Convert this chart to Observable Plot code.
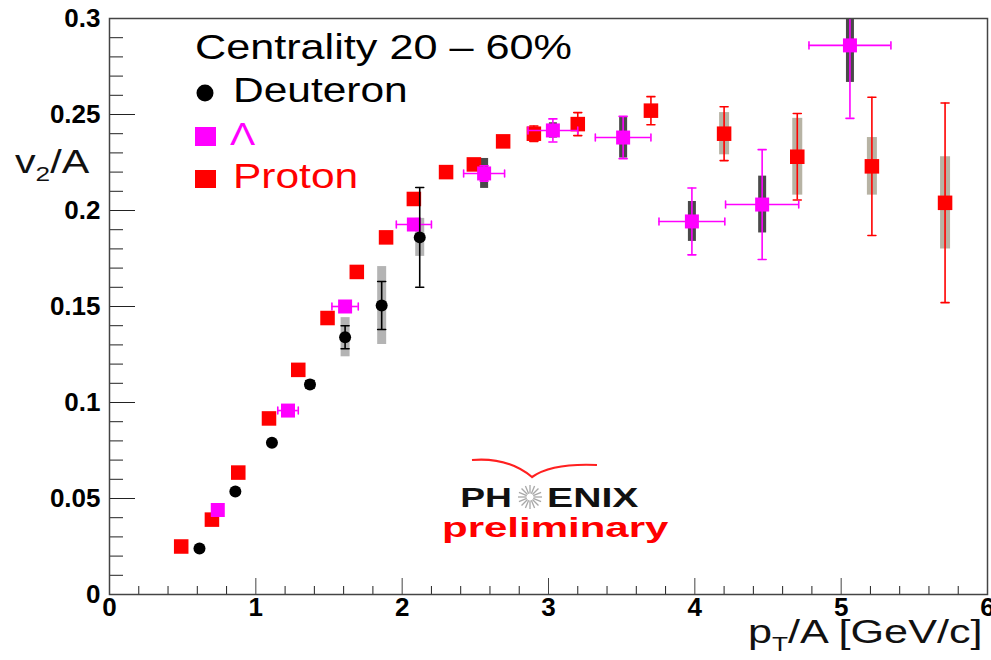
<!DOCTYPE html>
<html>
<head>
<meta charset="utf-8">
<script src="https://cdn.jsdelivr.net/npm/d3@7"></script>
<script src="https://cdn.jsdelivr.net/npm/@observablehq/plot@0.6"></script>
<style>
  body { margin: 0; background: #fff; }
  #wrap { position: relative; width: 991px; height: 660px; overflow: hidden; font-family: "Liberation Sans", Arial, sans-serif; }
  #wrap > svg.overlay { position: absolute; left: 0; top: 0; pointer-events: none; }
</style>
</head>
<body>
<div id="wrap"></div>
<script>
// ---- data ----
const protonX    = [0.49, 0.70, 0.88, 1.09, 1.29, 1.49, 1.69, 1.89, 2.08, 2.30, 2.49, 2.69, 2.90, 3.20, 3.70, 4.20, 4.70, 5.21, 5.71];
const protonY    = [0.025, 0.039, 0.0635, 0.0917, 0.117, 0.144, 0.168, 0.186, 0.206, 0.220, 0.224, 0.236, 0.240, 0.245, 0.252, 0.240, 0.228, 0.223, 0.204];
const protonStat = [0, 0, 0, 0, 0, 0, 0, 0, 0, 0, 0, 0.002, 0.004, 0.006, 0.0073, 0.014, 0.0225, 0.036, 0.052];
const protonSys  = [0, 0, 0, 0, 0, 0, 0, 0, 0, 0, 0, 0, 0, 0, 0, 0.011, 0.020, 0.015, 0.024];

const lambdaX    = [0.74, 1.22, 1.61, 2.08, 2.56, 3.03, 3.51, 3.98, 4.46, 5.06];
const lambdaY    = [0.044, 0.0958, 0.150, 0.1927, 0.2193, 0.2417, 0.238, 0.1943, 0.2031, 0.286];
const lambdaXErr = [0, 0.07, 0.09, 0.12, 0.14, 0.17, 0.19, 0.225, 0.25, 0.28];
const lambdaStat = [0, 0, 0, 0.003, 0.004, 0.006, 0.011, 0.0174, 0.0286, 0.038];
const lambdaSys  = [0, 0, 0, 0, 0.0078, 0.004, 0.0107, 0.0104, 0.0148, 0.0193];

const deutX    = [0.615, 0.86, 1.11, 1.37, 1.61, 1.86, 2.12];
const deutY    = [0.024, 0.0536, 0.079, 0.1094, 0.134, 0.1505, 0.186];
const deutStat = [0, 0, 0, 0.002, 0.006, 0.0125, 0.026];
const deutSys  = [0, 0, 0, 0, 0.0102, 0.0203, 0.0099];

const xMajor = [0, 1, 2, 3, 4, 5, 6];
const xTickLabels = ["0", "1", "2", "3", "4", "5", "6"];
const yMajor = [0, 0.05, 0.1, 0.15, 0.2, 0.25, 0.3];
const yTickLabels = ["0", "0.05", "0.1", "0.15", "0.2", "0.25", "0.3"];
const xMinor = d3.range(0, 31).map(i => i / 5).filter(v => !xMajor.includes(v));
const yMinor = d3.range(0, 31).map(i => i / 100).filter(v => !yMajor.some(m => Math.abs(m - v) < 1e-9));

const legendTitle = "Centrality 20 \u2013 60%";
const legendNames = ["Deuteron", "\u039B", "Proton"];

// ---- tables ----
const mk = (xs, ys, st, sy, xe) => xs.map((x, i) => ({x, y: ys[i], stat: st[i], sys: sy[i], xerr: xe ? xe[i] : 0}));
const proton = mk(protonX, protonY, protonStat, protonSys);
const lambda = mk(lambdaX, lambdaY, lambdaStat, lambdaSys, lambdaXErr);
const deut = mk(deutX, deutY, deutStat, deutSys);

const hcap = {draw(ctx, l) { ctx.moveTo(-l / 2, 0); ctx.lineTo(l / 2, 0); }};
const vcap = {draw(ctx, l) { ctx.moveTo(0, -l / 2); ctx.lineTo(0, l / 2); }};

function sysMarks(data, color, w) {
  return Plot.ruleX(data.filter(d => d.sys > 0), {x: "x", y1: d => d.y - d.sys, y2: d => d.y + d.sys, stroke: color, strokeWidth: w, clip: true});
}
function statMarks(data, color) {
  const e = data.filter(d => d.stat > 0);
  return [
    Plot.ruleX(e, {x: "x", y1: d => d.y - d.stat, y2: d => d.y + d.stat, stroke: color, strokeWidth: 1.6, clip: true}),
    Plot.vector(e.filter(d => d.y + d.stat <= 0.3), {x: "x", y: d => d.y + d.stat, length: 8, rotate: 0, anchor: "start", shape: hcap, stroke: color, strokeWidth: 1.6}),
    Plot.vector(e, {x: "x", y: d => d.y - d.stat, length: 8, rotate: 0, anchor: "start", shape: hcap, stroke: color, strokeWidth: 1.6})
  ];
}
function xerrMarks(data, color) {
  const e = data.filter(d => d.xerr > 0);
  return [
    Plot.ruleY(e, {y: "y", x1: d => d.x - d.xerr, x2: d => d.x + d.xerr, stroke: color, strokeWidth: 1.6}),
    Plot.vector(e, {x: d => d.x - d.xerr, y: "y", length: 7, rotate: 0, anchor: "start", shape: vcap, stroke: color, strokeWidth: 1.6}),
    Plot.vector(e, {x: d => d.x + d.xerr, y: "y", length: 7, rotate: 0, anchor: "start", shape: vcap, stroke: color, strokeWidth: 1.6})
  ];
}

const red = "#ff0000", mag = "#ff00ff";
const tickFont = {fontSize: 26, fontWeight: "bold", fill: "#000"};

const chart = Plot.plot({
  width: 991, height: 660,
  marginLeft: 109, marginRight: 4, marginTop: 18, marginBottom: 66,
  style: {fontFamily: "'Liberation Sans', Arial, sans-serif", background: "#fff", color: "#000", overflow: "visible"},
  x: {domain: [0, 6]},
  y: {domain: [0, 0.3]},
  marks: [
    // axes: labels
    Plot.axisY(yMajor, {tickSize: 0, tickPadding: 9, tickFormat: (d) => yTickLabels[yMajor.indexOf(d)], label: null, ...tickFont}),
    Plot.axisX(xMajor, {tickSize: 0, tickPadding: 3, tickFormat: (d) => xTickLabels[xMajor.indexOf(d)], label: null, ...tickFont}),
    // inward ticks
    Plot.axisY(yMajor, {tickSize: -26, fill: "none", label: null, stroke: "#222"}),
    Plot.axisY(yMinor, {tickSize: -14, fill: "none", label: null, stroke: "#222"}),
    Plot.axisX(xMajor, {tickSize: -16, fill: "none", label: null, stroke: "#444"}),
    Plot.axisX(xMinor, {tickSize: -8, fill: "none", label: null, stroke: "#222"}),
    // systematic boxes
    sysMarks(deut, "#b4b4b4", 9),
    sysMarks(proton, "#b7b3a4", 10),
    sysMarks(lambda, "#4a4a4a", 8),
    // proton
    statMarks(proton, red),
    Plot.dot(proton, {x: "x", y: "y", symbol: "square", r: 8.2, fill: red}),
    // lambda
    xerrMarks(lambda, mag),
    statMarks(lambda, mag),
    Plot.dot(lambda, {x: "x", y: "y", symbol: "square", r: 7.9, fill: mag}),
    // deuteron
    statMarks(deut, "#000"),
    Plot.dot(deut, {x: "x", y: "y", r: 6, fill: "#000"}),
    Plot.frame({stroke: "#444", strokeWidth: 1.5})
  ]
});

const wrap = document.getElementById("wrap");
wrap.appendChild(chart);

// ---- overlay: legend, axis titles, logo ----
const NS = "http://www.w3.org/2000/svg";
const ov = document.createElementNS(NS, "svg");
ov.setAttribute("class", "overlay");
ov.setAttribute("width", 991); ov.setAttribute("height", 660);
ov.setAttribute("font-family", "'Liberation Sans', Arial, sans-serif");
wrap.appendChild(ov);

function el(tag, attrs, parent = ov) {
  const e = document.createElementNS(NS, tag);
  for (const k in attrs) e.setAttribute(k, attrs[k]);
  parent.appendChild(e);
  return e;
}
function stext(x, y, sx, str, attrs) {
  const g = el("g", {transform: `translate(${x},${y}) scale(${sx},1)`});
  const t = el("text", {x: 0, y: 0, ...attrs}, g);
  t.textContent = str;
  return t;
}

// legend
stext(195, 59, 1.2, legendTitle, {"font-size": 36, fill: "#000"});
el("circle", {cx: 205, cy: 93, r: 8.5, fill: "#000"});
stext(233, 102, 1.18, legendNames[0], {"font-size": 36, fill: "#000"});
el("rect", {x: 195, y: 127, width: 21, height: 19, fill: mag});
stext(230, 145, 1.18, legendNames[1], {"font-size": 32, fill: mag});
el("rect", {x: 195, y: 170, width: 21, height: 18, fill: red});
stext(233, 188, 1.18, legendNames[2], {"font-size": 36, fill: red});

// y axis title v2/A
{
  const g = el("g", {transform: "translate(15,173) scale(1.25,1)"});
  const t = el("text", {x: 0, y: 0, "font-size": 33, fill: "#111"}, g);
  const a = el("tspan", {}, t); a.textContent = "v";
  const b = el("tspan", {"font-size": 21, dy: 8}, t); b.textContent = "2";
  const c = el("tspan", {dy: -8}, t); c.textContent = "/A";
}
// x axis title pT/A [GeV/c]
{
  const g = el("g", {transform: "translate(748,643) scale(1.31,1)"});
  const t = el("text", {x: 0, y: 0, "font-size": 33, fill: "#111"}, g);
  const a = el("tspan", {}, t); a.textContent = "p";
  const b = el("tspan", {"font-size": 20, dy: 8}, t); b.textContent = "T";
  const c = el("tspan", {dy: -8}, t); c.textContent = "/A [GeV/c]";
}

// PHENIX preliminary logo
el("path", {d: "M472,460 Q508,457 532,477 Q552,463 597,465", fill: "none", stroke: "#ff2020", "stroke-width": 2.2});
stext(512, 507, 1.33, "PH", {"font-size": 28, "font-weight": "bold", fill: "#111", "text-anchor": "end"});
stext(547, 507, 1.4, "ENIX", {"font-size": 28, "font-weight": "bold", fill: "#111"});
{
  const cx = 530, cy = 497;
  for (let i = 0; i < 16; i++) {
    const a = i * Math.PI / 8;
    el("line", {x1: cx + 3.5 * Math.cos(a), y1: cy + 3.5 * Math.sin(a), x2: cx + 12 * Math.cos(a), y2: cy + 12 * Math.sin(a), stroke: "#a8a8a8", "stroke-width": 1.3});
  }
}
stext(442, 537, 1.5, "preliminary", {"font-size": 28, "font-weight": "bold", fill: "#ff0000"});
</script>
</body>
</html>
